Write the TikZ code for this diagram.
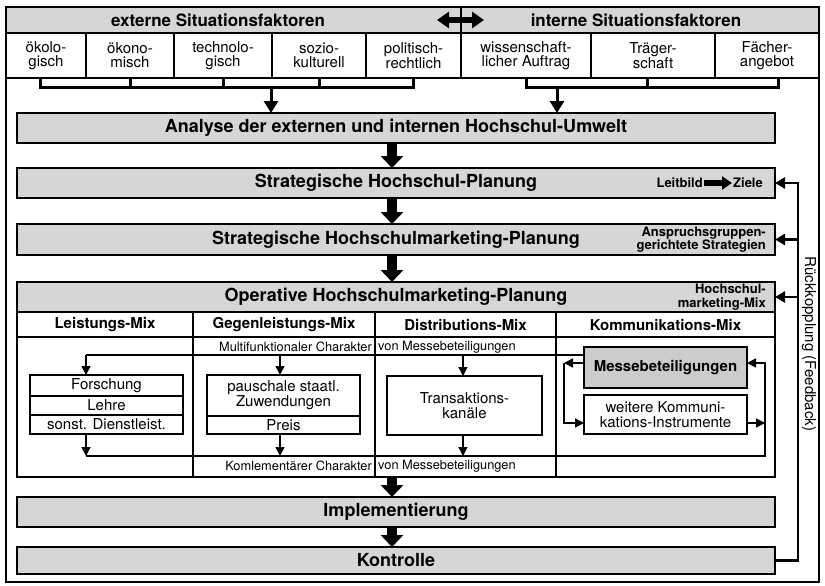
\documentclass[tikz,border=0pt]{standalone}
\usepackage{fontspec}
\setmainfont{TeX Gyre Heros}
\usetikzlibrary{arrows.meta}
\definecolor{boxgray}{gray}{0.84}
\definecolor{messegray}{gray}{0.80}
\tikzset{
  base/.style={draw, line width=1.3pt, inner sep=0pt, outer sep=0pt},
  graybox/.style={base, fill=boxgray, font=\bfseries\fontsize{18}{20}\selectfont},
  hdrbox/.style={base, fill=boxgray},
  factor/.style={base, align=center, font=\fontsize{15}{14}\selectfont},
  colhdr/.style={base, font=\bfseries\fontsize{15}{17}\selectfont},
  plainbox/.style={base, align=center, font=\fontsize{15}{15}\selectfont},
  smalltxt/.style={inner sep=0pt, font=\fontsize{12.8}{14}\selectfont},
  rtxt/.style={inner sep=1pt, align=right, font=\bfseries\fontsize{13}{13.5}\selectfont},
  bracket/.style={line width=3pt},
  medarr/.style={line width=3pt, -{Triangle[width=14pt,length=12pt]}},
  bigarr/.style={line width=10pt, -{Triangle[width=22pt,length=12pt]}},
  dblarr/.style={line width=6pt, {Triangle[width=16pt,length=12pt]}-{Triangle[width=16pt,length=12pt]}},
  lbarr/.style={line width=6pt, -{Triangle[width=13pt,length=10pt]}},
  fbarr/.style={line width=2.5pt, -{Triangle[width=11pt,length=10pt]}},
  smarr/.style={line width=1.5pt, -{Triangle[width=9pt,length=9pt]}},
  thinline/.style={line width=1.5pt}
}
\begin{document}
\begin{tikzpicture}[x=1pt,y=-1pt]
\useasboundingbox (0,0) rectangle (825,586);
% outer frame
\node[base, minimum width=813pt, minimum height=575pt] (outer) at (412.5,294.5) {};
% header
\node[hdrbox, minimum width=455pt, minimum height=26pt] (exthdr) at (233.5,20) {};
\node[hdrbox, minimum width=358pt, minimum height=26pt] (inthdr) at (640,20) {};
\node[inner sep=0pt, font=\bfseries\fontsize{17}{19}\selectfont] (exttxt) at (218,20) {externe Situationsfaktoren};
\node[inner sep=0pt, font=\bfseries\fontsize{17}{19}\selectfont] (inttxt) at (636,20) {interne Situationsfaktoren};
\coordinate (dL) at (437,20);
\coordinate (dR) at (484,20);
\draw[dblarr] (dL) -- (dR);
% factors
\node[factor, minimum width=80pt, minimum height=45pt] (f1) at (46,55.5) {ökolo-\\gisch};
\node[factor, minimum width=88pt, minimum height=45pt] (f2) at (130,55.5) {ökono-\\misch};
\node[factor, minimum width=98pt, minimum height=45pt] (f3) at (223,55.5) {technolo-\\gisch};
\node[factor, minimum width=94pt, minimum height=45pt] (f4) at (319,55.5) {sozio-\\kulturell};
\node[factor, minimum width=95pt, minimum height=45pt] (f5) at (413.5,55.5) {politisch-\\rechtlich};
\node[factor, minimum width=130pt, minimum height=45pt] (f6) at (526,55.5) {wissenschaft-\\licher Auftrag};
\node[factor, minimum width=124pt, minimum height=45pt] (f7) at (653,55.5) {Träger-\\schaft};
\node[factor, minimum width=104pt, minimum height=45pt] (f8) at (767,55.5) {Fächer-\\angebot};
% brackets
\coordinate (eY) at (0,88);
\draw[bracket] ([xshift=-6pt]f1.south) -- ([xshift=-6pt]f1.south |- eY) -- (f5.south |- eY) -- (f5.south);
\draw[bracket] (f2.south) -- (f2.south |- eY);
\draw[bracket] (f3.south) -- (f3.south |- eY);
\draw[bracket] (f4.south) -- (f4.south |- eY);
\draw[bracket] (f6.south) -- (f6.south |- eY) -- ([xshift=11pt]f8.south |- eY) -- ([xshift=11pt]f8.south);
\draw[bracket] ([xshift=-6pt]f7.south) -- ([xshift=-6pt]f7.south |- eY);
% main boxes
\node[graybox, minimum width=758pt, minimum height=30pt] (ana) at (396,128) {Analyse der externen und internen Hochschul-Umwelt};
\coordinate (eA) at (271,88);
\coordinate (iA) at (557,88);
\draw[medarr] (eA) -- (eA |- ana.north);
\draw[medarr] (iA) -- (iA |- ana.north);
\node[graybox, minimum width=758pt, minimum height=30pt] (shp) at (396,183) {Strategische Hochschul-Planung};
\node[graybox, minimum width=758pt, minimum height=31pt] (shmp) at (396,239.5) {Strategische Hochschulmarketing-Planung};
\node[base, minimum width=758pt, minimum height=195pt] (opframe) at (396,379.5) {};
\node[graybox, minimum width=758pt, minimum height=30pt] (ophdr) at (396,297) {Operative Hochschulmarketing-Planung};
\node[graybox, minimum width=758pt, minimum height=30pt] (impl) at (396,512) {Implementierung};
\node[graybox, minimum width=758pt, minimum height=27pt] (kontr) at (396,560.5) {Kontrolle};
% right-hand notes
\node[rtxt, anchor=east] (lb) at (704,183) {Leitbild};
\node[rtxt, anchor=west] (zi) at (732,183) {Ziele};
\draw[lbarr] (lb.east) -- (zi.west);
\node[rtxt, anchor=east] (ag) at (767,239.5) {Anspruchsgruppen-\\gerichtete Strategien};
\node[rtxt, anchor=east] (hm) at (767,297) {Hochschul-\\marketing-Mix};
% column headers and bodies
\node[colhdr, minimum width=176pt, minimum height=25pt] (c1) at (105,324.5) {Leistungs-Mix};
\node[colhdr, minimum width=182pt, minimum height=25pt] (c2) at (284,324.5) {Gegenleistungs-Mix};
\node[colhdr, minimum width=181pt, minimum height=25pt] (c3) at (465.5,324.5) {Distributions-Mix};
\node[colhdr, minimum width=219pt, minimum height=25pt] (c4) at (665.5,324.5) {Kommunikations-Mix};
\node[base, minimum width=176pt, minimum height=140pt] (b1) at (105,407) {};
\node[base, minimum width=182pt, minimum height=140pt] (b2) at (284,407) {};
\node[base, minimum width=181pt, minimum height=140pt] (b3) at (465.5,407) {};
\node[base, minimum width=219pt, minimum height=140pt] (b4) at (665.5,407) {};
% inner boxes
\node[plainbox, minimum width=153pt, minimum height=21pt] (fo) at (106.5,385.5) {Forschung};
\node[plainbox, minimum width=153pt, minimum height=19pt] (le) at (106.5,405.5) {Lehre};
\node[plainbox, minimum width=153pt, minimum height=19pt] (sd) at (106.5,424.5) {sonst. Dienstleist.};
\node[plainbox, minimum width=153pt, minimum height=41pt, font=\fontsize{15}{15}\selectfont] (pz) at (283.5,395.5) {pauschale staatl.\\Zuwendungen};
\node[plainbox, minimum width=153pt, minimum height=18pt] (pr) at (283.5,425) {Preis};
\node[plainbox, minimum width=155pt, minimum height=59pt] (tk) at (464.5,405.5) {Transaktions-\\kanäle};
\node[plainbox, fill=messegray, minimum width=163pt, minimum height=41pt, font=\bfseries\fontsize{15}{15}\selectfont] (messe) at (665.5,367.5) {Messebeteiligungen};
\node[plainbox, minimum width=163pt, minimum height=39pt] (weit) at (665.5,414.5) {weitere Kommuni-\\kations-Instrumente};
% texts on the connecting lines
\node[smalltxt, anchor=east] (mfc) at (372,347) {Multifunktionaler Charakter};
\node[smalltxt, anchor=west] (mfv) at (378,347) {von Messebeteiligungen};
\node[smalltxt, anchor=east] (kmc) at (372,466) {Komlementärer Charakter};
\node[smalltxt, anchor=west] (kmv) at (378,466) {von Messebeteiligungen};
% inner connectors
\coordinate (tA) at (86,355);
\coordinate (tB) at (280,355);
\coordinate (tC) at (463,355);
\draw[thinline] (tA) -- (tA -| messe.west);
\draw[smarr] (tA) -- (tA |- fo.north);
\draw[smarr] (tB) -- (tB |- pz.north);
\draw[smarr] (tC) -- (tC |- tk.north);
\coordinate (bA) at (86,456);
\coordinate (bB) at (280,456);
\coordinate (bC) at (463,456);
\coordinate (bR) at (765,456);
\coordinate (mR) at (765,363);
\coordinate (wR) at (765,423);
\coordinate (mL) at (564,363);
\coordinate (wL) at (564,423);
\draw[smarr] (bA |- sd.south) -- (bA);
\draw[smarr] (bB |- pr.south) -- (bB);
\draw[smarr] (bC |- tk.south) -- (bC);
\draw[smarr] (bA) -- (bR) -- (mR) -- (mR -| messe.east);
\draw[smarr] (wR -| weit.east) -- (wR);
\draw[smarr] (mL -| messe.west) -- (mL);
\draw[smarr] (mL) -- (wL) -- (wL -| weit.west);
% big flow arrows
\coordinate (ax) at (392,0);
\draw[bigarr] (ana.south -| ax) -- (shp.north -| ax);
\draw[bigarr] (shp.south -| ax) -- (shmp.north -| ax);
\draw[bigarr] (shmp.south -| ax) -- (ophdr.north -| ax);
\draw[bigarr] (opframe.south -| ax) -- (impl.north -| ax);
\draw[bigarr] (impl.south -| ax) -- (kontr.north -| ax);
% feedback
\coordinate (fbx) at (798,0);
\draw[fbarr] (kontr.east) -| (fbx |- shp.east) -- (shp.east);
\draw[fbarr] (fbx |- shmp.east) -- (shmp.east);
\draw[fbarr] (fbx |- ophdr.east) -- (ophdr.east);
\node[rotate=-90, inner sep=0pt, font=\fontsize{15}{17}\selectfont] (rk) at (809,344) {Rückkopplung (Feedback)};
\end{tikzpicture}
\end{document}
